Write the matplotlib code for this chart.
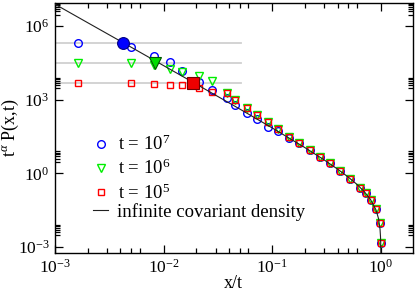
import matplotlib
matplotlib.use("Agg")
import matplotlib.pyplot as plt
from matplotlib.ticker import FixedLocator, LogFormatterSciNotation, NullFormatter
from matplotlib.lines import Line2D

plt.rcParams['font.family'] = ['Liberation Serif', 'DejaVu Serif']
plt.rcParams['mathtext.fontset'] = 'custom'
plt.rcParams['mathtext.rm'] = 'Liberation Serif'
plt.rcParams['mathtext.it'] = 'Liberation Serif:italic'
plt.rcParams['mathtext.bf'] = 'Liberation Serif:bold'

# ---- data ----
x_t7 = [0.00164, 0.00496, 0.0082, 0.0115, 0.0147, 0.0212, 0.0277, 0.0382, 0.045,
        0.0585, 0.0723, 0.0912, 0.1127, 0.1435, 0.176, 0.2216, 0.2737, 0.3376,
        0.4166, 0.514, 0.646, 0.728, 0.81, 0.902, 0.971, 0.99]
y_t7 = [2.17e5, 1.40e5, 6.0e4, 3.5e4, 1.51e4, 5.4e3, 2.48e3, 1.14e3, 607,
        279, 159, 79, 56, 29, 17.0, 8.7, 4.7, 2.55,
        1.24, 0.585, 0.26, 0.153, 0.081, 0.034, 0.0093, 0.00142]

x_t6 = [0.00164, 0.00496, 0.0082, 0.0115, 0.0147, 0.0212, 0.0277, 0.0382, 0.045,
        0.0585, 0.0723, 0.0912, 0.1127, 0.1435, 0.176, 0.2216, 0.2737, 0.3376,
        0.4166, 0.514, 0.646, 0.728, 0.81, 0.902, 0.971, 0.99]
y_t6 = [3.2e4, 3.2e4, 2.7e4, 1.77e4, 1.30e4, 9.5e3, 5.8e3, 1.82e3, 970,
        471, 238, 120, 62, 31, 17.7, 8.9, 4.77, 2.57,
        1.25, 0.589, 0.26, 0.154, 0.082, 0.0344, 0.0093, 0.00142]

x_t5 = [0.00164, 0.00496, 0.0082, 0.0115, 0.0147, 0.0212, 0.0277, 0.0382, 0.045,
        0.0585, 0.0723, 0.0912, 0.1127, 0.1435, 0.176, 0.2216, 0.2737, 0.3376,
        0.4166, 0.514, 0.646, 0.728, 0.81, 0.902, 0.971, 0.99]
y_t5 = [4.78e3, 4.65e3, 4.6e3, 3.96e3, 3.9e3, 3.08e3, 2.11e3, 1.82e3, 970,
        471, 238, 120, 62, 31, 17.7, 8.9, 4.77, 2.57,
        1.25, 0.589, 0.26, 0.154, 0.082, 0.0344, 0.0093, 0.00142]

# crossover points (large filled markers) and plateau levels
cross_x = [0.0042, 0.0083, 0.0188]
cross_y = [2.13e5, 3.1e4, 4.8e3]
plateau_y = [2.13e5, 3.2e4, 4.78e3]
plateau_xmax = 0.051

# infinite covariant density curve
dens_x = [0.001, 0.002, 0.005, 0.01, 0.02, 0.05, 0.1, 0.2, 0.3, 0.4, 0.5, 0.6,
          0.7, 0.8, 0.9, 0.95, 0.98, 0.99, 0.995, 0.999, 1.0]
dens_y = [7.9e6, 1.39e6, 1.41e5, 2.47e4, 4.33e3, 425, 71, 11.2, 3.55, 1.48, 0.707,
          0.359, 0.183, 0.0873, 0.0325, 0.0142, 0.0053, 0.0026, 0.0013, 2.5e-4, 1e-6]

labels = [r"t = 10$^{7}$", r"t = 10$^{6}$", r"t = 10$^{5}$"]
line_label = "infinite covariant density"

# ---- figure ----
W, H = 415, 292
fig = plt.figure(figsize=(W / 100, H / 100), dpi=100)
left, right, top, bottom = 55, 412.5, 3.3, 253
axw, axh = right - left, bottom - top
ax = fig.add_axes([left / W, (H - bottom) / H, axw / W, axh / H])
ax.set_xscale('log')
ax.set_yscale('log')

# plateau guide lines
for yv in plateau_y:
    ax.plot([1e-3, plateau_xmax], [yv, yv], color='#d0d0d0', lw=1.3, zorder=1)

mk = dict(ls='none', mfc='none', mew=1.0, ms=5.5)
ax.plot(x_t7, y_t7, marker='o', mec='#0000ff', zorder=3, **mk)
ax.plot(x_t6, y_t6, marker='v', mec='#00ee00', zorder=4, **mk)
ax.plot(x_t5, y_t5, marker='s', mec='#ff0000', zorder=5, **dict(mk, ms=5.0))

ax.plot(dens_x, dens_y, color='#202020', lw=0.8, zorder=6)

big = [('o', '#0000ff', '#000080', 8.5), ('v', '#00dd00', '#005500', 9), ('s', '#ee0000', '#700000', 8)]
for (m, fc, ec, s), xv, yv in zip(big, cross_x, cross_y):
    ax.plot([xv], [yv], marker=m, mfc=fc, mec=ec, mew=0.8, ms=s, ls='none', zorder=7)

ax.set_xlim(1e-3, 1.95)
ax.set_ylim(5.7e-4, 8.6e6)

ax.xaxis.set_major_locator(FixedLocator([1e-3, 1e-2, 1e-1, 1e0]))
xmin = [m * 10.0 ** k for k in (-3, -2, -1, 0) for m in (2, 3, 4, 5, 6)]
ax.xaxis.set_minor_locator(FixedLocator(xmin))
ax.yaxis.set_major_locator(FixedLocator([1e-3, 1e0, 1e3, 1e6]))
ymin = [m * 10.0 ** k for k in (-3, 0, 3, 6) for m in (3, 4, 5, 6, 7, 8)]
ax.yaxis.set_minor_locator(FixedLocator(ymin))
ax.xaxis.set_major_formatter(LogFormatterSciNotation())
ax.yaxis.set_major_formatter(LogFormatterSciNotation())
ax.xaxis.set_minor_formatter(NullFormatter())
ax.yaxis.set_minor_formatter(NullFormatter())

ax.tick_params(which='both', direction='in', top=True, right=True, labelsize=12.5, width=0.9)
ax.tick_params(which='major', length=6, pad=4)
ax.tick_params(which='minor', length=3.5)
for s in ax.spines.values():
    s.set_linewidth(1.0)

ax.set_xlabel("x/t", fontsize=13)
ax.set_ylabel(r"t$^{\alpha}$ P(x,t)", fontsize=13)
ax.xaxis.set_label_coords(0.5, -(275 - bottom) / axh)
ax.yaxis.set_label_coords(-(left - 21) / axw, 0.5)

# legends
h7 = Line2D([], [], marker='o', ls='none', mfc='none', mec='#0000ff', mew=1.0, ms=5.5)
h6 = Line2D([], [], marker='v', ls='none', mfc='none', mec='#00ee00', mew=1.0, ms=5.5)
h5 = Line2D([], [], marker='s', ls='none', mfc='none', mec='#ff0000', mew=1.0, ms=5.0)
leg1 = ax.legend([h7, h6, h5], labels, loc='upper left',
                 bbox_to_anchor=(92 / W, (H - 135) / H), bbox_transform=fig.transFigure,
                 frameon=False, fontsize=13.5, handlelength=1.0, handletextpad=0.4,
                 labelspacing=0.25, borderpad=0, borderaxespad=0)
ax.add_artist(leg1)
hl = Line2D([], [], color='#202020', lw=0.8)
ax.legend([hl], [line_label], loc='upper left',
          bbox_to_anchor=(93 / W, (H - 203) / H), bbox_transform=fig.transFigure,
          frameon=False, fontsize=13.5, handlelength=0.8, handletextpad=0.5,
          borderpad=0, borderaxespad=0)

fig.savefig("out.png", dpi=100)
